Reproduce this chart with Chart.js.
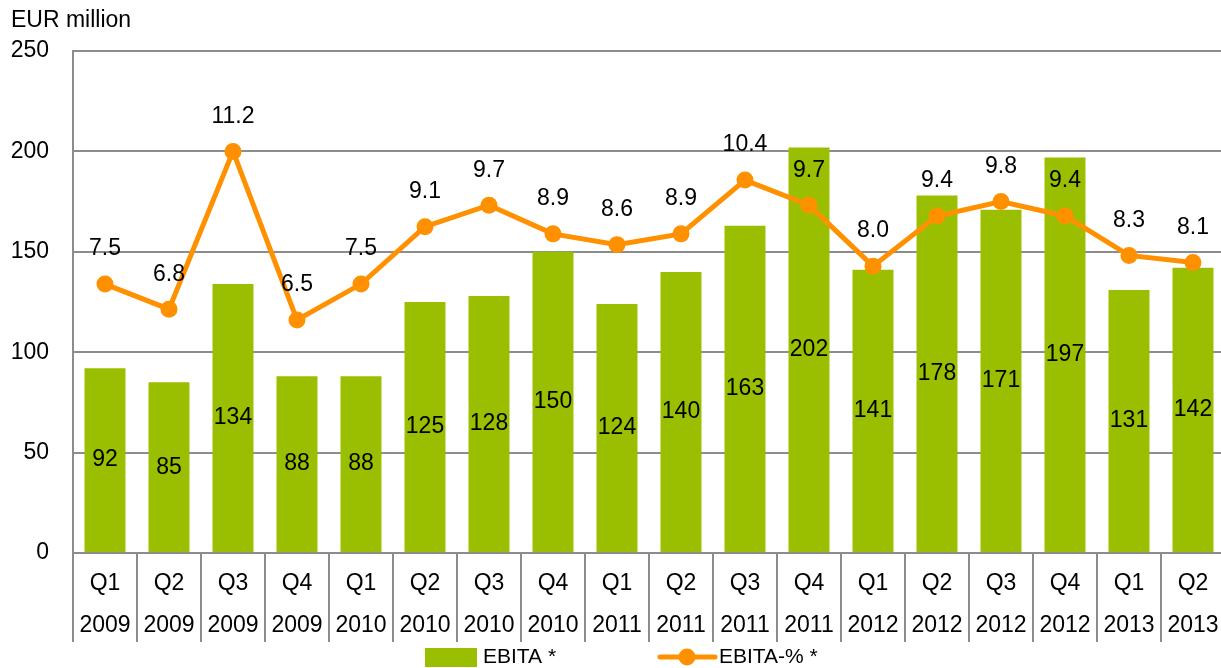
<!DOCTYPE html>
<html>
<head>
<meta charset="utf-8">
<script src="https://cdn.jsdelivr.net/npm/chart.js@4.4.1/dist/chart.umd.min.js"></script>
<style>
  html, body { margin: 0; padding: 0; background: #fff; overflow: hidden; }
  canvas { display: block; }
</style>
</head>
<body>
<!-- a few px wider than the window: the plot in the original runs past the right edge -->
<canvas id="chart" width="1225" height="668"></canvas>
<script>
const quarters = ["Q1", "Q2", "Q3", "Q4", "Q1", "Q2", "Q3", "Q4", "Q1", "Q2", "Q3", "Q4", "Q1", "Q2", "Q3", "Q4", "Q1", "Q2"];
const years = ["2009", "2009", "2009", "2009", "2010", "2010", "2010", "2010", "2011", "2011", "2011", "2011", "2012", "2012", "2012", "2012", "2013", "2013"];
const ebita = [92, 85, 134, 88, 88, 125, 128, 150, 124, 140, 163, 202, 141, 178, 171, 197, 131, 142];
const ebitaPct = [7.5, 6.8, 11.2, 6.5, 7.5, 9.1, 9.7, 8.9, 8.6, 8.9, 10.4, 9.7, 8.0, 9.4, 9.8, 9.4, 8.3, 8.1];
const yMax = 250;
const yStep = 50;
const pctMax = 14;

const FONT = '"Liberation Sans", Arial, sans-serif';
const GREEN = "#99bf00";
const ORANGE = "#ff9000";
const GRID = "#8c8c8c";

Chart.defaults.font.family = FONT;
Chart.defaults.font.size = 23;
Chart.defaults.color = "#000";

// numbers on bars and above the line points
const valueLabels = {
  id: "valueLabels",
  afterDatasetsDraw(chart) {
    const ctx = chart.ctx;
    ctx.save();
    ctx.font = `23px ${FONT}`;
    ctx.fillStyle = "#000";
    ctx.textAlign = "center";
    ctx.textBaseline = "middle";
    chart.getDatasetMeta(0).data.forEach((bar, i) => {
      const { x, y, base } = bar.getProps(["x", "y", "base"], true);
      ctx.fillText(String(ebita[i]), x, (y + base) / 2);
    });
    chart.getDatasetMeta(1).data.forEach((pt, i) => {
      ctx.fillText(ebitaPct[i].toFixed(1), pt.x, pt.y - 35);
    });
    ctx.restore();
  },
};

// unit label top left + legend at the bottom
const extras = {
  id: "extras",
  afterDraw(chart) {
    const ctx = chart.ctx;
    const ds = chart.data.datasets;
    ctx.save();
    ctx.fillStyle = "#000";
    ctx.textBaseline = "middle";
    ctx.textAlign = "left";
    ctx.font = `23px ${FONT}`;
    ctx.fillText("EUR million", 11, 21);

    const ly = chart.height - 11;
    ctx.font = `21px ${FONT}`;
    ctx.fillStyle = ds[0].backgroundColor;
    ctx.fillRect(425, ly - 9, 52, 19);
    ctx.fillStyle = "#000";
    ctx.fillText(ds[0].label, 483, ly);

    ctx.strokeStyle = ds[1].borderColor;
    ctx.lineWidth = 5;
    ctx.lineCap = "round";
    ctx.beginPath();
    ctx.moveTo(660, ly);
    ctx.lineTo(715, ly);
    ctx.stroke();
    ctx.fillStyle = ds[1].borderColor;
    ctx.beginPath();
    ctx.arc(687, ly, 8.5, 0, Math.PI * 2);
    ctx.fill();
    ctx.fillStyle = "#000";
    ctx.fillText(ds[1].label, 719, ly);
    ctx.restore();
  },
};

new Chart(document.getElementById("chart"), {
  type: "bar",
  data: {
    labels: quarters.map((q, i) => [q, years[i]]),
    datasets: [
      {
        type: "bar",
        label: "EBITA *",
        data: ebita,
        backgroundColor: GREEN,
        borderWidth: 0,
        categoryPercentage: 1,
        barPercentage: 0.64,
        yAxisID: "y",
        order: 1,
      },
      {
        type: "line",
        label: "EBITA-% *",
        data: ebitaPct,
        borderColor: ORANGE,
        backgroundColor: ORANGE,
        borderWidth: 5,
        pointRadius: 8.5,
        pointBorderWidth: 0,
        pointBackgroundColor: ORANGE,
        tension: 0,
        yAxisID: "y1",
        order: 0,
      },
    ],
  },
  options: {
    responsive: false,
    animation: false,
    layout: { autoPadding: false, padding: { top: 51, left: 10, right: 0, bottom: 23 } },
    plugins: {
      legend: { display: false },
      tooltip: { enabled: false },
    },
    scales: {
      x: {
        offset: true,
        grid: {
          offset: true,
          drawOnChartArea: false,
          drawTicks: true,
          tickLength: 89,
          color: GRID,
          lineWidth: 2,
        },
        border: { display: true, color: GRID, width: 2 },
        ticks: {
          padding: -79,
          maxRotation: 0,
          autoSkip: false,
          font: { size: 23, lineHeight: 42 / 23 },
        },
        afterFit: (scale) => {
          scale.height = 92;
          scale.paddingLeft = 0;
          scale.paddingRight = 0;
        },
      },
      y: {
        position: "left",
        min: 0,
        max: yMax,
        ticks: { stepSize: yStep, padding: 24, font: { size: 23 } },
        grid: { color: GRID, lineWidth: 2, drawTicks: false },
        border: { display: true, color: GRID, width: 2 },
        afterFit: (scale) => { scale.width = 63; },
      },
      y1: {
        display: false,
        position: "right",
        min: 0,
        max: pctMax,
      },
    },
  },
  plugins: [valueLabels, extras],
});
</script>
</body>
</html>
